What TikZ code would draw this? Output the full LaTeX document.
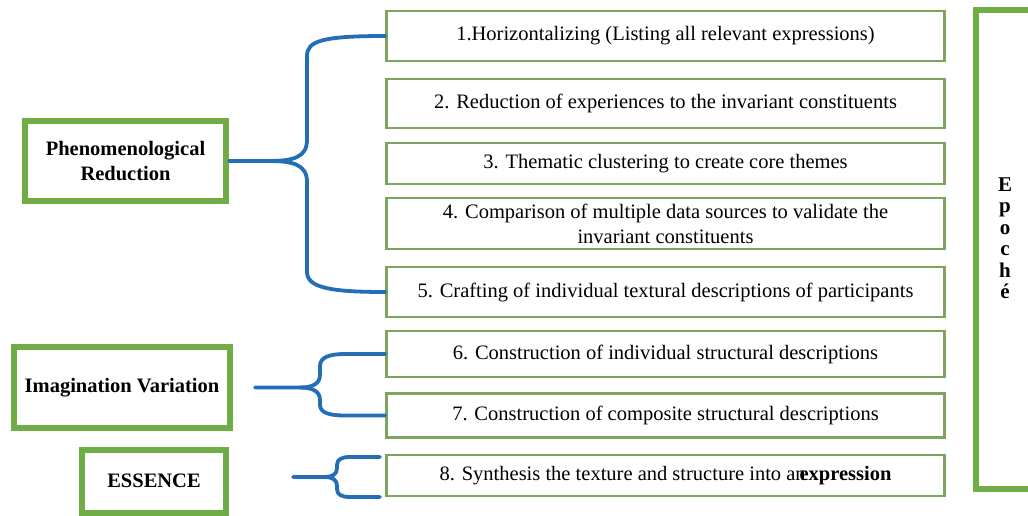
\documentclass[tikz,border=0pt]{standalone}
\usepackage{fontspec}
\setmainfont{Liberation Serif}[BoldFont={Liberation Serif Bold}]
\newfontfamily\tnr{Liberation Serif}[BoldFont={Liberation Serif Bold}]
\definecolor{boxgreen}{RGB}{112,173,71}
\definecolor{thingreen}{RGB}{125,165,95}
\definecolor{braceblue}{RGB}{35,110,180}
\tikzset{
  stepbox/.style={draw=thingreen, line width=2.5pt, rectangle, inner sep=0pt,
    minimum width=558pt, align=center, font=\tnr\fontsize{20.5}{25}\selectfont},
  mainbox/.style={draw=boxgreen, line width=6pt, rectangle, inner sep=0pt,
    align=center, font=\tnr\fontsize{20.5}{25}\selectfont\bfseries},
  bracelink/.style={draw=braceblue, line width=3.8pt, line cap=round, line join=round}
}
\begin{document}
\begin{tikzpicture}[x=1pt,y=-1pt]
\useasboundingbox (0,0) rectangle (1028,516);
\clip (0,0) rectangle (1028,516);
% step boxes
\node[stepbox, minimum height=50pt] (b1) at (665.5,36) {1.Horizontalizing (Listing all relevant expressions)};
\node[stepbox, minimum height=49pt] (b2) at (665.5,103.5) {2. Reduction of experiences to the invariant constituents};
\node[stepbox, minimum height=41pt] (b3) at (665.5,163.5) {3. Thematic clustering to create core themes};
\node[stepbox, minimum height=51pt] (b4) at (665.5,223.5) {4. Comparison of multiple data sources to validate the\\invariant constituents};
\node[stepbox, minimum height=50pt] (b5) at (665.5,292) {5. Crafting of individual textural descriptions of participants};
\node[stepbox, minimum height=46pt] (b6) at (665.5,354) {6. Construction of individual structural descriptions};
\node[stepbox, minimum height=44pt] (b7) at (665.5,415.5) {7. Construction of composite structural descriptions};
\node[stepbox, minimum height=41pt] (b8) at (665.5,475.5) {8. Synthesis the texture and structure into an\kern-0.3em\textbf{expression}};
% main boxes
\node[mainbox, minimum width=201pt, minimum height=80pt] (pr) at (125.5,161) {Phenomenological\\Reduction};
\node[mainbox, minimum width=216pt, minimum height=81pt] (iv) at (122,387.5) {Imagination Variation};
\node[mainbox, minimum width=144pt, minimum height=63pt] (es) at (154,481) {ESSENCE};
% epoche
\node[draw=boxgreen, line width=6pt, rectangle, inner sep=0pt, minimum width=60pt, minimum height=479pt] (ep) at (1006,249.5) {};
\node[font=\tnr\fontsize{21}{21.5}\selectfont\bfseries, align=center, inner sep=0pt] (eptext) at (1005,238) {E\\p\\o\\c\\h\\é};
% braces
\coordinate (pt) at (268,161);
\draw[bracelink] (pr.east) -- (pt) .. controls (292,161) and (307,158) .. (307,140) -- (307,56) .. controls (307,41) and (322,36) .. (b1.west);
\draw[bracelink] (pt) .. controls (292,161) and (307,164) .. (307,182) -- (307,272) .. controls (307,288) and (332,292) .. (b5.west);
\coordinate (iv0) at (255,387.5);
\coordinate (ivt) at (300,387.5);
\draw[bracelink] (iv0) -- (ivt) .. controls (312,387.5) and (320,384) .. (320,375) -- (320,366) .. controls (320,357) and (330,354) .. (345,354) -- (b6.west);
\draw[bracelink] (ivt) .. controls (312,387.5) and (320,391) .. (320,400) -- (320,405) .. controls (320,413) and (330,415.5) .. (345,415.5) -- (b7.west);
\coordinate (es0) at (293,477);
\coordinate (est) at (324,477);
\coordinate (e8t) at (380,457);
\coordinate (e8b) at (380,497);
\draw[bracelink] (es0) -- (est) .. controls (333,477) and (337,474) .. (337,468) -- (337,465) .. controls (337,459) and (342,457) .. (350,457) -- (e8t);
\draw[bracelink] (est) .. controls (333,477) and (337,480) .. (337,486) -- (337,489) .. controls (337,495) and (342,497) .. (350,497) -- (e8b);
\end{tikzpicture}
\end{document}
